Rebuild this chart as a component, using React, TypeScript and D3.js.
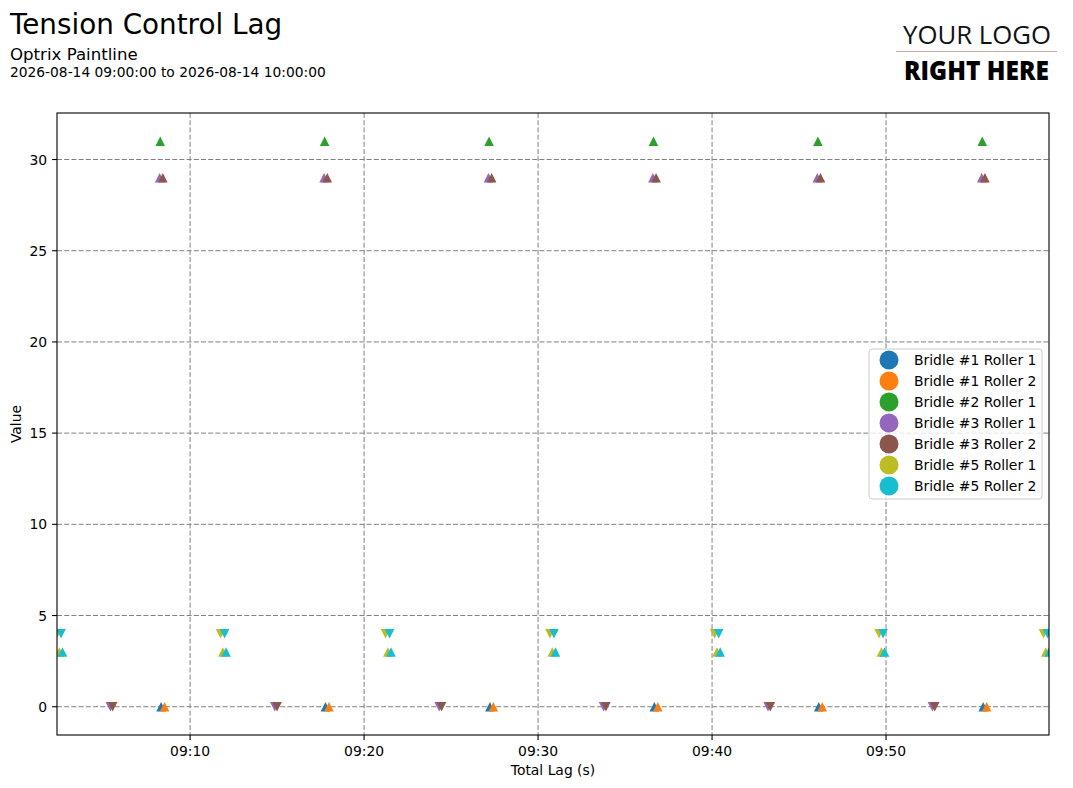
import React from "react";
import * as d3 from "d3";

type Pt = [string, number, "^" | "v"];

const seriesNames = [
  "Bridle #1 Roller 1",
  "Bridle #1 Roller 2",
  "Bridle #2 Roller 1",
  "Bridle #3 Roller 1",
  "Bridle #3 Roller 2",
  "Bridle #5 Roller 1",
  "Bridle #5 Roller 2",
];
const seriesColors = ["#1f77b4", "#ff7f0e", "#2ca02c", "#9467bd", "#8c564b", "#bcbd22", "#17becf"];

const bridle1Roller1: Pt[] = [
  ["09:08:20", 0, "^"], ["09:17:47", 0, "^"], ["09:27:14", 0, "^"],
  ["09:36:41", 0, "^"], ["09:46:08", 0, "^"], ["09:55:35", 0, "^"],
];
const bridle1Roller2: Pt[] = [
  ["09:08:32", 0, "^"], ["09:17:59", 0, "^"], ["09:27:26", 0, "^"],
  ["09:36:53", 0, "^"], ["09:46:20", 0, "^"], ["09:55:47", 0, "^"],
];
const bridle2Roller1: Pt[] = [
  ["09:08:17", 31, "^"], ["09:17:44", 31, "^"], ["09:27:11", 31, "^"],
  ["09:36:38", 31, "^"], ["09:46:05", 31, "^"], ["09:55:32", 31, "^"],
];
const bridle3Roller1: Pt[] = [
  ["09:05:25", 0, "v"], ["09:08:15", 29, "^"],
  ["09:14:52", 0, "v"], ["09:17:42", 29, "^"],
  ["09:24:19", 0, "v"], ["09:27:09", 29, "^"],
  ["09:33:46", 0, "v"], ["09:36:36", 29, "^"],
  ["09:43:13", 0, "v"], ["09:46:03", 29, "^"],
  ["09:52:40", 0, "v"], ["09:55:30", 29, "^"],
];
const bridle3Roller2: Pt[] = [
  ["09:05:33", 0, "v"], ["09:08:26", 29, "^"],
  ["09:15:00", 0, "v"], ["09:17:53", 29, "^"],
  ["09:24:27", 0, "v"], ["09:27:20", 29, "^"],
  ["09:33:54", 0, "v"], ["09:36:47", 29, "^"],
  ["09:43:21", 0, "v"], ["09:46:14", 29, "^"],
  ["09:52:48", 0, "v"], ["09:55:41", 29, "^"],
];
const bridle5Roller1: Pt[] = [
  ["09:02:21", 4, "v"], ["09:02:29", 3, "^"],
  ["09:11:45", 4, "v"], ["09:11:53", 3, "^"],
  ["09:21:14", 4, "v"], ["09:21:22", 3, "^"],
  ["09:30:41", 4, "v"], ["09:30:49", 3, "^"],
  ["09:40:09", 4, "v"], ["09:40:17", 3, "^"],
  ["09:49:36", 4, "v"], ["09:49:44", 3, "^"],
  ["09:59:03", 4, "v"], ["09:59:11", 3, "^"],
];
const bridle5Roller2: Pt[] = [
  ["09:02:35", 4, "v"], ["09:02:40", 3, "^"],
  ["09:11:59", 4, "v"], ["09:12:04", 3, "^"],
  ["09:21:28", 4, "v"], ["09:21:33", 3, "^"],
  ["09:30:55", 4, "v"], ["09:31:00", 3, "^"],
  ["09:40:23", 4, "v"], ["09:40:28", 3, "^"],
  ["09:49:50", 4, "v"], ["09:49:55", 3, "^"],
  ["09:59:17", 4, "v"], ["09:59:22", 3, "^"],
];
const seriesData: Pt[][] = [
  bridle1Roller1, bridle1Roller2, bridle2Roller1, bridle3Roller1,
  bridle3Roller2, bridle5Roller1, bridle5Roller2,
];

const titleText = "Tension Control Lag";
const subtitleText = "Optrix Paintline";
const rangeText = "2026-08-14 09:00:00 to 2026-08-14 10:00:00";
const xLabel = "Total Lag (s)";
const yLabel = "Value";

const W = 1073;
const H = 788;
const plot = { left: 57, right: 1049, top: 113, bottom: 735 };
const FONT = "DejaVu Sans, sans-serif";

const parseT = d3.timeParse("%H:%M:%S");

export default function App() {
  const allTimes = seriesData.flat().map((p) => parseT(p[0]) as Date);
  const allVals = seriesData.flat().map((p) => p[1]);
  const x = d3
    .scaleTime()
    .domain(d3.extent(allTimes) as [Date, Date])
    .range([plot.left, plot.right]);
  const vMin = d3.min(allVals) as number;
  const vMax = d3.max(allVals) as number;
  const pad = (vMax - vMin) * 0.05;
  const y = d3.scaleLinear().domain([vMin - pad, vMax + pad]).range([plot.bottom, plot.top]);

  const xTicks = x.ticks(d3.timeMinute.every(10) as d3.TimeInterval);
  const fmt = d3.timeFormat("%H:%M");
  const yTicks = y.ticks(7);
  const h = 4.8;
  const tri = (m: "^" | "v") =>
    m === "^" ? `M0,${-h}L${-h},${h}L${h},${h}Z` : `M0,${h}L${-h},${-h}L${h},${-h}Z`;

  const legX = 869, legY = 349, legW = 173, legH = 150, rowH = 21;

  return (
    <svg
      width={W}
      height={H}
      style={{ position: "absolute", left: 0, top: 0, background: "#fff" }}
      fontFamily={FONT}
    >
      <defs>
        <clipPath id="plotclip">
          <rect x={plot.left} y={plot.top} width={plot.right - plot.left} height={plot.bottom - plot.top} />
        </clipPath>
      </defs>
      <rect width={W} height={H} fill="#fff" />
      <text x={10} y={34} fontSize={27.8} fill="#000">{titleText}</text>
      <text x={10} y={60} fontSize={16.6} fill="#000">{subtitleText}</text>
      <text x={10} y={77} fontSize={13.8} fill="#000">{rangeText}</text>

      {/* logo */}
      <text x={903} y={44} fontSize={25} fontFamily="Open Sans, sans-serif" fontWeight={400}
        textLength={148} lengthAdjust="spacingAndGlyphs" fill="#111">YOUR LOGO</text>
      <line x1={896} x2={1057} y1={51.5} y2={51.5} stroke="#d9a3a3" strokeWidth={1} />
      <text x={904} y={80} fontSize={26} fontFamily="Open Sans, sans-serif" fontWeight={800}
        textLength={145} lengthAdjust="spacingAndGlyphs" fill="#000">RIGHT HERE</text>

      {/* grid */}
      <g stroke="#808080" strokeWidth={1} strokeDasharray="5,2.2">
        {xTicks.map((t, i) => (
          <line key={"gx" + i} x1={x(t)} x2={x(t)} y1={plot.top} y2={plot.bottom} />
        ))}
        {yTicks.map((t, i) => (
          <line key={"gy" + i} x1={plot.left} x2={plot.right} y1={y(t)} y2={y(t)} />
        ))}
      </g>

      {/* markers */}
      <g clipPath="url(#plotclip)">
        {seriesData.map((s, si) =>
          s.map((p, pi) => (
            <path
              key={si + "-" + pi}
              d={tri(p[2])}
              transform={`translate(${x(parseT(p[0]) as Date)},${y(p[1])})`}
              fill={seriesColors[si]}
            />
          ))
        )}
      </g>

      {/* axes frame */}
      <rect x={plot.left} y={plot.top} width={plot.right - plot.left} height={plot.bottom - plot.top}
        fill="none" stroke="#000" strokeWidth={1.1} />

      {/* x ticks */}
      {xTicks.map((t, i) => (
        <g key={"xt" + i} transform={`translate(${x(t)},0)`}>
          <line y1={plot.bottom} y2={plot.bottom + 4.9} stroke="#000" strokeWidth={1.1} />
          <text y={plot.bottom + 21} textAnchor="middle" fontSize={13.9} fill="#000">{fmt(t)}</text>
        </g>
      ))}
      {/* y ticks */}
      {yTicks.map((t, i) => (
        <g key={"yt" + i} transform={`translate(0,${y(t)})`}>
          <line x1={plot.left - 4.9} x2={plot.left} stroke="#000" strokeWidth={1.1} />
          <text x={plot.left - 9.8} dy={5} textAnchor="end" fontSize={13.9} fill="#000">{t}</text>
        </g>
      ))}

      <text x={(plot.left + plot.right) / 2} y={775} textAnchor="middle" fontSize={13.9} fill="#000">{xLabel}</text>
      <text transform={`translate(21,${(plot.top + plot.bottom) / 2}) rotate(-90)`} textAnchor="middle"
        fontSize={13.9} fill="#000">{yLabel}</text>

      {/* legend */}
      <rect x={legX} y={legY} width={legW} height={legH} rx={3} fill="#fff" fillOpacity={0.8}
        stroke="#cccccc" strokeWidth={1} />
      {seriesNames.map((n, i) => (
        <g key={"lg" + i} transform={`translate(0,${legY + 11 + i * rowH})`}>
          <circle cx={889} cy={0} r={9.5} fill={seriesColors[i]} />
          <text x={914} y={5} fontSize={13.9} fill="#000">{n}</text>
        </g>
      ))}
    </svg>
  );
}
